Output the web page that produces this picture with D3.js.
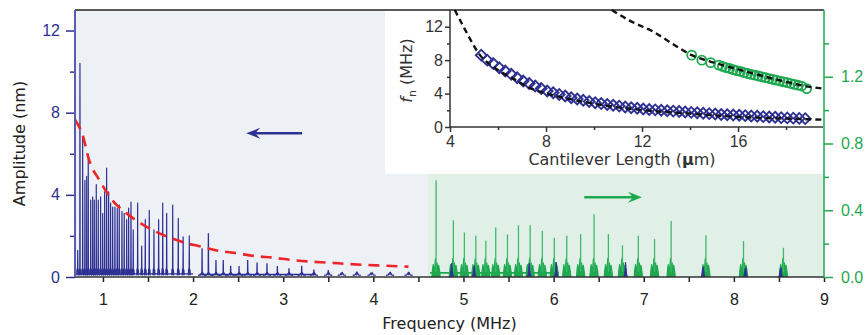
<!DOCTYPE html>
<html>
<head>
<meta charset="utf-8">
<script src="https://cdn.jsdelivr.net/npm/d3@7/dist/d3.min.js"></script>
<style>
  body { margin: 0; background: #fff; }
  svg { display: block; font-family: 'DejaVu Sans', sans-serif; }
</style>
</head>
<body>
<div id="chart"></div>
<script>
// ---------- spectrum data ----------
// first band, dense peaks (left axis, nm)
const lowPeakFreq = [0.72, 0.745, 0.775, 0.80, 0.82, 0.837, 0.864, 0.886, 0.904, 0.926, 0.948, 0.974, 0.997,
  1.019, 1.041, 1.063, 1.085, 1.108, 1.133, 1.159, 1.181, 1.211, 1.236, 1.263, 1.285, 1.311, 1.336,
  1.385, 1.43, 1.47, 1.514, 1.566, 1.618, 1.663, 1.707, 1.774, 1.836, 1.89, 1.958];
const lowPeakAmp = [1.3, 10.4, 6.8, 4.7, 4.9, 5.9, 3.75, 3.9, 3.75, 4.5, 3.75, 3.9, 3.1,
  4.15, 5.3, 4.15, 3.6, 3.4, 3.4, 3.35, 3.5, 3.2, 3.1, 2.8, 3.35, 3.65, 2.3,
  3.6, 1.5, 2.8, 3.25, 2.3, 2.8, 3.6, 3.1, 3.5, 2.85, 1.95, 2.0];
// second band, sparse peaks (left axis, nm)
const midPeakFreq = [2.10, 2.17, 2.254, 2.335, 2.417, 2.51, 2.606, 2.71, 2.82, 2.935, 3.064, 3.205,
  3.34, 3.50, 3.65, 3.816, 3.98, 4.185, 4.39];
const midPeakAmp = [1.4, 2.13, 0.83, 0.83, 0.55, 0.54, 0.83, 0.7, 0.67, 0.54, 0.42, 0.55,
  0.36, 0.34, 0.23, 0.26, 0.21, 0.18, 0.18];
// high band (right axis, nm)
const highPeakFreq = [4.696, 4.888, 5.01, 5.137, 5.248, 5.358, 5.488, 5.61, 5.74, 5.875, 6.008,
  6.146, 6.30, 6.449, 6.608, 6.764, 6.94, 7.12, 7.304, 7.69, 8.107, 8.55];
const highPeakAmp = [0.58, 0.34, 0.267, 0.247, 0.217, 0.297, 0.255, 0.31, 0.31, 0.275, 0.235,
  0.247, 0.257, 0.376, 0.257, 0.19, 0.247, 0.227, 0.336, 0.25, 0.215, 0.175];
// small blue bumps inside the high band (left axis, nm)
const highBlueFreq = [4.87, 5.12, 5.73, 6.03, 6.80, 7.66, 8.13, 8.52];
const highBlueAmp = [0.67, 0.55, 0.67, 0.72, 0.72, 0.5, 0.42, 0.42];
// continuous baseline stretches [start, end, level]
const lowBaselines = [[0.72, 2.0, 0.15], [2.07, 3.36, 0.12]];
const highBaselines = [[4.63, 6.06, 0.025]];

// red dashed envelope (left axis, nm)
const envelopeFreq = [0.69, 0.78, 0.84, 0.97, 1.10, 1.26, 1.48, 1.71, 1.93, 2.06, 2.28, 2.48, 2.69,
  2.89, 3.09, 3.30, 3.50, 3.73, 3.93, 4.14, 4.39];
const envelopeAmp = [7.66, 6.84, 5.79, 4.65, 3.76, 3.11, 2.45, 1.97, 1.64, 1.51, 1.28, 1.16, 1.02,
  0.94, 0.83, 0.75, 0.70, 0.63, 0.585, 0.55, 0.50];

// ---------- inset data ----------
const mode1Length = [5.30, 5.55, 5.80, 6.05, 6.30, 6.55, 6.80, 7.05, 7.30, 7.55, 7.80, 8.05, 8.30, 8.55,
  8.80, 9.05, 9.30, 9.55, 9.80, 10.05, 10.30, 10.55, 10.80, 11.05, 11.30, 11.55, 11.80, 12.05,
  12.30, 12.55, 12.80, 13.05, 13.30, 13.55, 13.80, 14.05, 14.30, 14.55, 14.80, 15.05, 15.30,
  15.55, 15.80, 16.05, 16.30, 16.55, 16.80, 17.05, 17.30, 17.55, 17.80, 18.05, 18.30, 18.55, 18.80];
const mode1Freq = [8.6, 8.0, 7.6, 7.1, 6.7, 6.3, 5.9, 5.5, 5.2, 4.9, 4.6, 4.3, 4.1, 3.9,
  3.7, 3.5, 3.35, 3.2, 3.05, 2.9, 2.8, 2.7, 2.6, 2.5, 2.4, 2.3, 2.25, 2.15,
  2.1, 2.05, 2.0, 1.95, 1.9, 1.85, 1.8, 1.75, 1.7, 1.65, 1.6, 1.55, 1.5,
  1.47, 1.44, 1.4, 1.36, 1.32, 1.28, 1.24, 1.2, 1.16, 1.12, 1.09, 1.06, 1.03, 1.0];
const mode2Length = [14.07, 14.49, 14.86, 15.2, 15.35, 15.5, 15.65, 15.8, 15.95, 16.1, 16.25, 16.4,
  16.55, 16.7, 16.85, 17.0, 17.15, 17.3, 17.45, 17.6, 17.75, 17.9, 18.05, 18.2, 18.35, 18.5, 18.65, 18.86];
const mode2Freq = [8.6, 8.0, 7.7, 7.4, 7.25, 7.1, 7.0, 6.85, 6.75, 6.65, 6.5, 6.4,
  6.3, 6.2, 6.1, 6.0, 5.9, 5.8, 5.7, 5.6, 5.5, 5.4, 5.3, 5.2, 5.1, 5.0, 4.9, 4.6];
const fit1Length = [4.2, 4.6, 5.25, 5.9, 6.63, 7.3, 8.03, 8.58, 9.4, 10.5, 12.1, 14.0, 16.1, 18.0, 19.54];
const fit1Freq = [14, 11.8, 8.6, 7.0, 5.8, 4.7, 4.0, 3.6, 3.1, 2.55, 2.0, 1.6, 1.2, 1.0, 0.88];
const fit2Length = [10.74, 11.5, 12.47, 13.3, 14.07, 15.0, 16.0, 16.9, 18.0, 19.0, 19.54];
const fit2Freq = [14, 12.7, 11.4, 9.9, 8.6, 7.7, 6.9, 6.2, 5.4, 4.8, 4.6];

// ---------- axes ----------
const freqTicks = [1, 1.5, 2, 2.5, 3, 3.5, 4, 4.5, 5, 5.5, 6, 6.5, 7, 7.5, 8, 8.5, 9];
const ampMajor = [0, 4, 8, 12], ampMinor = [2, 6, 10];
const rightMajor = [0, 0.4, 0.8, 1.2], rightMinor = [0.2, 0.6, 1.0, 1.4];
const lenMajor = [4, 8, 12, 16], lenMinor = [6, 10, 14, 18];
const fnMajor = [0, 4, 8, 12], fnMinor = [2, 6, 10];
const bandSplit = 4.6;           // where the green band starts (MHz)
const blueArrow = { from: 3.21, to: 2.59, amp: 7.0 };
const greenArrow = { from: 6.34, to: 6.98, amp: 0.478 };

// ---------- layout ----------
const W = 867, H = 335;
const margin = { top: 10, right: 43, bottom: 58, left: 75 };
const inset = { left: 385, right: 824, top: 10, bottom: 174, plotLeft: 450, plotRight: 823, plotBottom: 127 };
const BLUE = '#2e3192', GREEN = '#1ea84f', LIGHTGREEN = '#3cb96b', DARK = '#222';

const svg = d3.select('#chart').append('svg').attr('width', W).attr('height', H);

const x = d3.scaleLinear().domain([0.69, 9]).range([margin.left, W - margin.right]);
const yL = d3.scaleLinear().domain([0, 13]).range([H - margin.bottom, margin.top]);
const yR = d3.scaleLinear().domain([0, 1.6]).range([H - margin.bottom, margin.top]);

// backgrounds
svg.append('rect').attr('x', x(0.69)).attr('y', margin.top)
  .attr('width', x(bandSplit) - x(0.69)).attr('height', yL(0) - margin.top).attr('fill', '#edf1f6');
svg.append('rect').attr('x', x(bandSplit)).attr('y', inset.bottom)
  .attr('width', x(9) - x(bandSplit)).attr('height', yL(0) - inset.bottom).attr('fill', '#e0f0e6');
svg.append('rect').attr('x', inset.left).attr('y', inset.top)
  .attr('width', inset.right - inset.left).attr('height', inset.bottom - inset.top).attr('fill', '#fff');

// ---------- spectrum ----------
const lineL = d3.line().x(d => x(d[0])).y(d => yL(d[1]));
const lineR = d3.line().x(d => x(d[0])).y(d => yR(d[1]));
const spec = svg.append('g').attr('class', 'spectrum');

// peak outlines: [offset MHz, level]; null = the peak itself
const lowShape = [[-0.011, 0.08], [-0.007, 0.4], [-0.004, 0.12], [-0.0015, 0.3], [0, null],
  [0.0015, 0.3], [0.004, 0.15], [0.008, 0.35], [0.011, 0.08]];
const midShape = [[-0.045, 0.08], [-0.02, 0.1], [-0.008, 0.18], [-0.002, 0.15], [0, null],
  [0.002, 0.15], [0.008, 0.2], [0.02, 0.1], [0.045, 0.08]];
const clusterShape = [[-0.046, 0.0], [-0.04, 0.04], [-0.032, 0.075], [-0.024, 0.035], [-0.014, 0.06],
  [-0.007, 0.11], [-0.002, 0.05], [0.004, 0.065], [0.011, 0.085], [0.019, 0.035],
  [0.029, 0.07], [0.039, 0.035], [0.046, 0.0]];
const bumpShape = [[-0.022, 0.0], [-0.014, 0.12], [-0.007, 0.35], [-0.002, null], [0.004, 0.45],
  [0.01, 0.15], [0.02, 0.0]];
const outline = (f, h, shape) => shape.map(([dx, v]) => [f + dx, v === null ? h : v]);

// baselines
lowBaselines.forEach(([a, b, lv]) => spec.append('path')
  .attr('d', lineL([[a, lv], [b, lv]])).attr('stroke', BLUE).attr('stroke-width', 1.4).attr('fill', 'none'));
highBaselines.forEach(([a, b, lv]) => spec.append('path')
  .attr('d', lineR([[a, lv], [b, lv]])).attr('stroke', GREEN).attr('stroke-width', 1.6).attr('fill', 'none'));

// light halo behind the dense peaks
const halo = d3.area().x(d => x(d[0])).y0(yL(0.1)).y1(d => yL(d[1]));
spec.selectAll('path.halo').data(lowPeakFreq.map((f, i) => [f, lowPeakAmp[i]]))
  .enter().append('path').attr('class', 'halo')
  .attr('d', d => halo([[d[0] - 0.009, 0.3], [d[0], d[1] * 0.97], [d[0] + 0.009, 0.3]]))
  .attr('fill', '#8c8ec9').attr('opacity', 0.5);

spec.selectAll('path.low').data(lowPeakFreq.map((f, i) => [f, lowPeakAmp[i]]))
  .enter().append('path').attr('class', 'low')
  .attr('d', d => lineL(outline(d[0], d[1], lowShape)))
  .attr('fill', 'none').attr('stroke', BLUE).attr('stroke-width', 1.2).attr('stroke-linejoin', 'round');

spec.selectAll('path.mid').data(midPeakFreq.map((f, i) => [f, midPeakAmp[i]]))
  .enter().append('path').attr('class', 'mid')
  .attr('d', d => lineL(outline(d[0], d[1], midShape)))
  .attr('fill', 'none').attr('stroke', BLUE).attr('stroke-width', 1.3);

const high = highPeakFreq.map((f, i) => [f, highPeakAmp[i]]);
spec.selectAll('path.cluster').data(high)
  .enter().append('path').attr('class', 'cluster')
  .attr('d', d => lineR(outline(d[0], d[1], clusterShape)))
  .attr('fill', GREEN).attr('stroke', GREEN).attr('stroke-width', 1.2).attr('stroke-linejoin', 'round');
spec.selectAll('path.spike').data(high)
  .enter().append('path').attr('class', 'spike')
  .attr('d', d => lineR([[d[0], 0.03], [d[0], d[1]]]))
  .attr('stroke', LIGHTGREEN).attr('stroke-width', 1.3);

spec.selectAll('path.bump').data(highBlueFreq.map((f, i) => [f, highBlueAmp[i]]))
  .enter().append('path').attr('class', 'bump')
  .attr('d', d => lineL(outline(d[0], d[1], bumpShape)))
  .attr('fill', BLUE).attr('stroke', BLUE).attr('stroke-width', 1);

// red envelope
svg.append('path')
  .attr('d', d3.line().curve(d3.curveMonotoneX).x(d => x(d[0])).y(d => yL(d[1]))(envelopeFreq.map((f, i) => [f, envelopeAmp[i]])))
  .attr('fill', 'none').attr('stroke', '#ec2528').attr('stroke-width', 2.6).attr('stroke-dasharray', '11,7');

// arrows
function arrow(x1, x2, y, color) {
  const dir = x2 > x1 ? 1 : -1;
  svg.append('line').attr('x1', x1).attr('x2', x2 - dir * 8).attr('y1', y).attr('y2', y)
    .attr('stroke', color).attr('stroke-width', 2.6);
  svg.append('path')
    .attr('d', `M${x2},${y}L${x2 - dir * 14},${y - 5.5}L${x2 - dir * 9},${y}L${x2 - dir * 14},${y + 5.5}Z`)
    .attr('fill', color);
}
arrow(x(blueArrow.from), x(blueArrow.to), yL(blueArrow.amp), BLUE);
arrow(x(greenArrow.from), x(greenArrow.to), yR(greenArrow.amp), GREEN);

// ---------- main axes ----------
const style = (g, color) => {
  g.select('.domain').remove();
  g.selectAll('.tick line').attr('stroke', color).attr('stroke-width', 1.5);
  g.selectAll('.tick text').attr('fill', color).attr('font-size', 16);
};

svg.append('g').attr('transform', `translate(0,${yL(0)})`)
  .call(d3.axisBottom(x).tickValues(freqTicks).tickSize(5).tickPadding(12)
    .tickFormat(d => Number.isInteger(d) ? d : ''))
  .call(g => style(g, DARK));

svg.append('g').attr('transform', `translate(${x(0.69)},0)`)
  .call(d3.axisLeft(yL).tickValues(ampMajor).tickSize(9).tickPadding(6))
  .call(g => style(g, BLUE));
svg.append('g').attr('transform', `translate(${x(0.69)},0)`)
  .call(d3.axisLeft(yL).tickValues(ampMinor).tickSize(5).tickFormat(''))
  .call(g => style(g, BLUE));

svg.append('g').attr('transform', `translate(${x(9)},0)`)
  .call(d3.axisRight(yR).tickValues(rightMajor).tickSize(9).tickPadding(8).tickFormat(d3.format('.1f')))
  .call(g => style(g, GREEN));
svg.append('g').attr('transform', `translate(${x(9)},0)`)
  .call(d3.axisRight(yR).tickValues(rightMinor).tickSize(5).tickFormat(''))
  .call(g => style(g, GREEN));

// frame lines
svg.append('line').attr('x1', x(0.69)).attr('x2', x(9)).attr('y1', yL(0)).attr('y2', yL(0))
  .attr('stroke', '#333').attr('stroke-width', 1.5);
svg.append('line').attr('x1', x(0.69)).attr('x2', x(9)).attr('y1', margin.top).attr('y2', margin.top)
  .attr('stroke', '#222').attr('stroke-width', 1.5);
svg.append('line').attr('x1', x(0.69)).attr('x2', x(0.69)).attr('y1', margin.top).attr('y2', yL(0))
  .attr('stroke', '#5a5cb0').attr('stroke-width', 2);
svg.append('line').attr('x1', x(9)).attr('x2', x(9)).attr('y1', margin.top).attr('y2', yL(0))
  .attr('stroke', GREEN).attr('stroke-width', 1.5);

// axis titles
svg.append('text').attr('transform', `translate(25,${(margin.top + yL(0)) / 2}) rotate(-90)`)
  .attr('text-anchor', 'middle').attr('font-size', 16).attr('fill', DARK).text('Amplitude (nm)');
svg.append('text').attr('x', (x(0.69) + x(9)) / 2).attr('y', 329)
  .attr('text-anchor', 'middle').attr('font-size', 16).attr('fill', DARK).text('Frequency (MHz)');

// ---------- inset ----------
const xi = d3.scaleLinear().domain([4, 19.54]).range([inset.plotLeft, inset.plotRight]);
const yi = d3.scaleLinear().domain([0, 14]).range([inset.plotBottom, inset.top]);
const ins = svg.append('g').attr('class', 'inset');
const INK = '#333';

const fitLine = d3.line().curve(d3.curveMonotoneX).x(d => xi(d[0])).y(d => yi(d[1]));

ins.selectAll('path.diamond').data(mode1Length.map((l, i) => [l, mode1Freq[i]]))
  .enter().append('path').attr('class', 'diamond')
  .attr('d', d3.symbol(d3.symbolSquare, 58))
  .attr('transform', d => `translate(${xi(d[0])},${yi(d[1])}) rotate(45)`)
  .attr('fill', 'none').attr('stroke', BLUE).attr('stroke-width', 1.9);

ins.selectAll('circle').data(mode2Length.map((l, i) => [l, mode2Freq[i]]))
  .enter().append('circle')
  .attr('cx', d => xi(d[0])).attr('cy', d => yi(d[1])).attr('r', 4.5)
  .attr('fill', 'none').attr('stroke', GREEN).attr('stroke-width', 1.8);

[[fit1Length, fit1Freq], [fit2Length, fit2Freq]].forEach(([ls, fs]) => ins.append('path')
  .attr('d', fitLine(ls.map((l, i) => [l, fs[i]])))
  .attr('fill', 'none').attr('stroke', '#111').attr('stroke-width', 2.4).attr('stroke-dasharray', '6,4'));

ins.append('g').attr('transform', `translate(0,${inset.plotBottom})`)
  .call(d3.axisBottom(xi).tickValues(lenMajor).tickSize(5).tickPadding(4))
  .call(g => style(g, INK));
ins.append('g').attr('transform', `translate(0,${inset.plotBottom})`)
  .call(d3.axisBottom(xi).tickValues(lenMinor).tickSize(3).tickFormat(''))
  .call(g => style(g, INK));
ins.append('g').attr('transform', `translate(${inset.plotLeft},0)`)
  .call(d3.axisLeft(yi).tickValues(fnMajor).tickSize(5).tickPadding(2))
  .call(g => style(g, INK));
ins.append('g').attr('transform', `translate(${inset.plotLeft},0)`)
  .call(d3.axisLeft(yi).tickValues(fnMinor).tickSize(3).tickFormat(''))
  .call(g => style(g, INK));

ins.append('line').attr('x1', inset.plotLeft).attr('x2', inset.plotRight)
  .attr('y1', inset.plotBottom).attr('y2', inset.plotBottom).attr('stroke', INK).attr('stroke-width', 1.5);
ins.append('line').attr('x1', inset.plotLeft).attr('x2', inset.plotLeft)
  .attr('y1', inset.top).attr('y2', inset.plotBottom).attr('stroke', INK).attr('stroke-width', 1.5);

const lenTitle = ins.append('text').attr('x', 622).attr('y', 165)
  .attr('text-anchor', 'middle').attr('font-size', 16).attr('fill', INK);
lenTitle.append('tspan').text('Cantilever Length (');
lenTitle.append('tspan').attr('font-weight', 'bold').text('µ');
lenTitle.append('tspan').text('m)');

const fnTitle = ins.append('text')
  .attr('transform', `translate(412,${(inset.top + inset.plotBottom) / 2 + 2}) rotate(-90)`)
  .attr('text-anchor', 'middle').attr('font-size', 16).attr('fill', INK);
fnTitle.append('tspan').attr('font-style', 'italic').text('f');
fnTitle.append('tspan').attr('font-size', 11).attr('dy', 4).text('n');
fnTitle.append('tspan').attr('dy', -4).text(' (MHz)');
</script>
</body>
</html>
